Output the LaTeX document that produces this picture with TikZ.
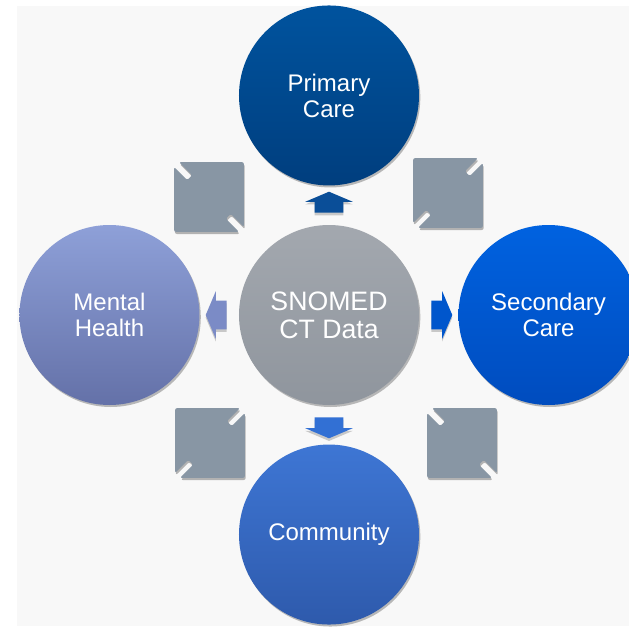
\documentclass[tikz,border=0pt]{standalone}
\usepackage{fontspec}
\setmainfont{Liberation Sans}
\usetikzlibrary{positioning,calc,shapes.arrows,shadows}

\definecolor{panel}{HTML}{F8F8F8}
\definecolor{linkgray}{HTML}{8896A4}

\begin{document}
\begin{tikzpicture}[font=\fontsize{18}{19.5}\selectfont, node distance=29.25pt,
  hub/.style={circle, minimum size=135pt, inner sep=0pt, align=center, text=white,
    drop shadow={shadow xshift=1pt, shadow yshift=-1.5pt, fill=black!45, opacity=.6}},
  blk/.style={single arrow, inner xsep=0pt, inner ysep=10.5pt, minimum height=15.75pt,
    single arrow head extend=7.1pt, single arrow tip angle=134,
    drop shadow={shadow xshift=0pt, shadow yshift=-2pt, fill=black!40, opacity=.5}},
  pics/linkbox/.style={code={
    \fill[linkgray, rotate=#1, rounded corners=1.5pt,
      preaction={fill=black!30, transform canvas={xshift=0.6pt, yshift=-1.6pt}}]
      (37,0) -- (2.6,34.4) -- (2.6,20.5) -- (-2.6,20.5) -- (-2.6,34.4) -- (-37,0)
      -- (-2.6,-34.4) -- (-2.6,-20.5) -- (2.6,-20.5) -- (2.6,-34.4) -- cycle;}},
  x=1pt, y=1pt]
\useasboundingbox (-246.75,-233.25) rectangle (225,236.25);
\clip (-246.75,-233.25) rectangle (225,236.25);
\fill[panel] (-234,-233.25) rectangle (225,231.75);

\node[hub, font=\fontsize{20}{21}\selectfont, top color={rgb,255:red,163;green,168;blue,175}, bottom color={rgb,255:red,143;green,149;blue,157}] (core) {SNOMED\\CT Data};
\node[hub, above=of core, top color={rgb,255:red,0;green,83;blue,158}, bottom color={rgb,255:red,0;green,62;blue,126}] (primary) {Primary\\Care};
\node[hub, right=of core, top color={rgb,255:red,0;green,98;blue,224}, bottom color={rgb,255:red,0;green,76;blue,190}] (secondary) {Secondary\\Care};
\node[hub, below=of core, top color={rgb,255:red,62;green,118;blue,212}, bottom color={rgb,255:red,46;green,90;blue,172}] (community) {Community};
\node[hub, left=of core, top color={rgb,255:red,142;green,160;blue,216}, bottom color={rgb,255:red,100;green,113;blue,168}] (mental) {Mental\\Health};

\node[blk, rotate=90, fill={rgb,255:red,10;green,78;blue,152}] (up) at ($(core.north)!0.5!(primary.south)$) {};
\node[blk, fill={rgb,255:red,0;green,86;blue,204}] (rt) at ($(core.east)!0.5!(secondary.west)$) {};
\node[blk, rotate=270, fill={rgb,255:red,50;green,112;blue,212}] (dn) at ($(core.south)!0.5!(community.north)$) {};
\node[blk, rotate=180, fill={rgb,255:red,123;green,139;blue,198}] (lt) at ($(core.west)!0.5!(mental.east)$) {};

\pic (tl) at (-90,88.5) {linkbox=45};
\pic (tr) at (89.25,91.5) {linkbox=-45};
\pic (bl) at (-89.25,-96) {linkbox=-45};
\pic (br) at (99.75,-96) {linkbox=45};
\end{tikzpicture}
\end{document}
